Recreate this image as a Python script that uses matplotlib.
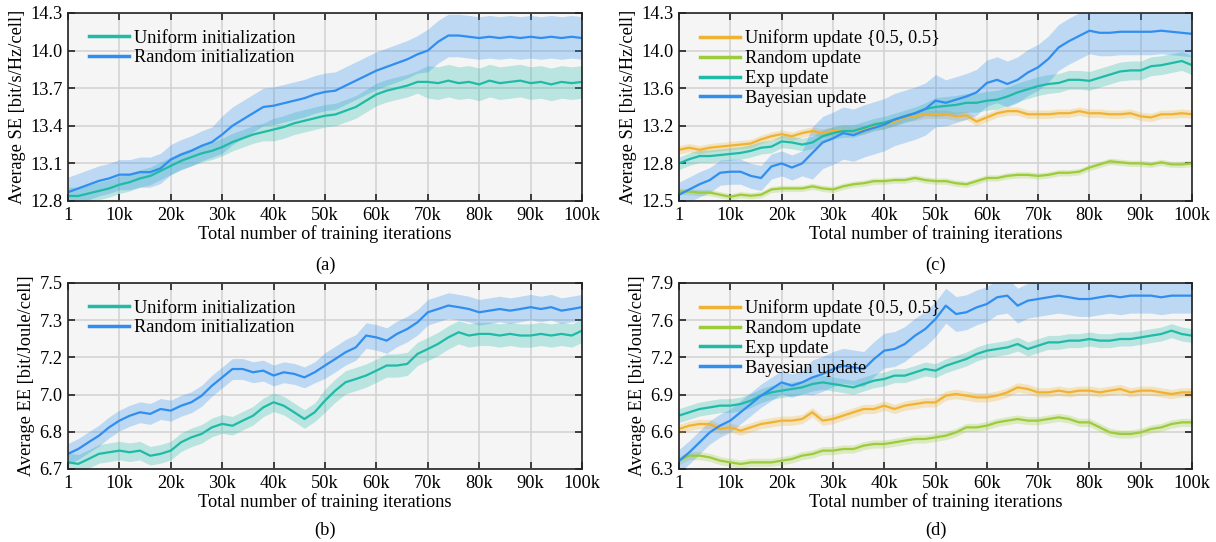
import numpy as np
import matplotlib
matplotlib.use("Agg")
import matplotlib.pyplot as plt

plt.rcParams['font.family'] = ['Liberation Serif', 'DejaVu Serif']
plt.rcParams['mathtext.fontset'] = 'stix'

# ---------------- data ----------------
iters = [1] + list(range(2000, 100001, 2000))   # 51 sample points

# (a) Average SE, initialization
se_init_uniform = [12.84, 12.84, 12.86, 12.88, 12.90, 12.93, 12.95, 12.98, 13.00, 13.04,
                   13.08, 13.12, 13.15, 13.18, 13.20, 13.23, 13.27, 13.30, 13.33, 13.35,
                   13.37, 13.39, 13.42, 13.44, 13.46, 13.48, 13.49, 13.52, 13.55, 13.60,
                   13.65, 13.68, 13.70, 13.72, 13.75, 13.75, 13.74, 13.76, 13.74, 13.75,
                   13.73, 13.76, 13.74, 13.75, 13.76, 13.74, 13.75, 13.73, 13.75, 13.74, 13.75]
se_init_random = [12.87, 12.90, 12.93, 12.96, 12.98, 13.01, 13.01, 13.03, 13.03, 13.06,
                  13.13, 13.17, 13.20, 13.24, 13.27, 13.33, 13.40, 13.45, 13.50, 13.55,
                  13.56, 13.58, 13.60, 13.62, 13.65, 13.67, 13.68, 13.72, 13.76, 13.80,
                  13.84, 13.87, 13.90, 13.93, 13.97, 14.00, 14.07, 14.12, 14.12, 14.11,
                  14.10, 14.11, 14.10, 14.11, 14.10, 14.11, 14.10, 14.11, 14.10, 14.11, 14.10]
se_init_uniform_band = [0.07] * 20 + [0.09] * 15 + [0.13] * 16
se_init_random_band = [0.12] * 15 + [0.15] * 20 + [0.17] * 16

# (c) Average SE, update schemes
se_upd_uniform = [12.99, 13.01, 12.99, 13.01, 13.02, 13.03, 13.04, 13.05, 13.09, 13.12,
                  13.14, 13.12, 13.15, 13.17, 13.15, 13.17, 13.18, 13.17, 13.18, 13.22,
                  13.23, 13.26, 13.30, 13.31, 13.33, 13.33, 13.33, 13.31, 13.32, 13.26,
                  13.30, 13.34, 13.36, 13.36, 13.33, 13.33, 13.33, 13.34, 13.34, 13.36,
                  13.34, 13.34, 13.33, 13.33, 13.34, 13.31, 13.30, 13.33, 13.33, 13.34, 13.33]
se_upd_random = [12.59, 12.59, 12.58, 12.58, 12.56, 12.54, 12.56, 12.55, 12.56, 12.61,
                 12.62, 12.62, 12.62, 12.64, 12.62, 12.61, 12.64, 12.66, 12.67, 12.69,
                 12.69, 12.70, 12.70, 12.72, 12.70, 12.69, 12.69, 12.67, 12.66, 12.69,
                 12.72, 12.72, 12.74, 12.75, 12.75, 12.74, 12.75, 12.77, 12.77, 12.78,
                 12.82, 12.85, 12.88, 12.87, 12.86, 12.86, 12.85, 12.87, 12.85, 12.85, 12.86]
se_upd_exp = [12.86, 12.90, 12.93, 12.93, 12.94, 12.95, 12.96, 12.98, 13.01, 13.02,
              13.07, 13.06, 13.04, 13.06, 13.12, 13.15, 13.17, 13.17, 13.20, 13.23,
              13.25, 13.28, 13.31, 13.34, 13.38, 13.40, 13.41, 13.42, 13.44, 13.44,
              13.46, 13.47, 13.50, 13.54, 13.57, 13.60, 13.62, 13.63, 13.66, 13.66,
              13.65, 13.68, 13.71, 13.74, 13.75, 13.75, 13.79, 13.80, 13.82, 13.84, 13.80]
se_upd_bayes = [12.56, 12.61, 12.66, 12.70, 12.77, 12.78, 12.78, 12.74, 12.72, 12.83,
                12.86, 12.82, 12.86, 12.96, 13.06, 13.10, 13.15, 13.13, 13.17, 13.20,
                13.23, 13.28, 13.31, 13.34, 13.38, 13.46, 13.44, 13.47, 13.50, 13.54,
                13.63, 13.66, 13.62, 13.66, 13.73, 13.78, 13.86, 13.97, 14.03, 14.08,
                14.13, 14.11, 14.11, 14.12, 14.12, 14.12, 14.12, 14.13, 14.12, 14.11, 14.10]
se_upd_uniform_band = [0.04] * 51
se_upd_random_band = [0.03] * 51
se_upd_exp_band = [0.06] * 25 + [0.09] * 26
se_upd_bayes_band = [0.12] * 13 + [0.25] * 13 + [0.22] * 25

# (b) Average EE, initialization
ee_init_uniform = [6.729, 6.722, 6.743, 6.765, 6.772, 6.779, 6.772, 6.779, 6.757, 6.765,
                   6.779, 6.815, 6.836, 6.851, 6.879, 6.894, 6.886, 6.908, 6.929, 6.965,
                   6.987, 6.972, 6.944, 6.915, 6.944, 6.994, 7.037, 7.073, 7.087, 7.102,
                   7.123, 7.145, 7.145, 7.152, 7.195, 7.216, 7.238, 7.266, 7.288, 7.274,
                   7.281, 7.281, 7.274, 7.281, 7.274, 7.274, 7.281, 7.274, 7.281, 7.274, 7.295]
ee_init_random = [6.765, 6.786, 6.815, 6.843, 6.879, 6.908, 6.929, 6.944, 6.937, 6.958,
                  6.951, 6.972, 6.987, 7.015, 7.058, 7.094, 7.130, 7.130, 7.116, 7.123,
                  7.102, 7.116, 7.109, 7.094, 7.116, 7.145, 7.173, 7.202, 7.223, 7.274,
                  7.266, 7.252, 7.281, 7.302, 7.331, 7.374, 7.388, 7.403, 7.396, 7.388,
                  7.374, 7.381, 7.388, 7.381, 7.388, 7.396, 7.388, 7.396, 7.381, 7.388, 7.396]
ee_init_uniform_band = [0.04] * 25 + [0.05] * 26
ee_init_random_band = [0.045] * 25 + [0.055] * 26

# (d) Average EE, update schemes
ee_upd_uniform = [6.644, 6.673, 6.687, 6.687, 6.644, 6.658, 6.630, 6.658, 6.687, 6.701,
                  6.716, 6.716, 6.730, 6.788, 6.716, 6.730, 6.759, 6.788, 6.816, 6.816,
                  6.845, 6.816, 6.845, 6.859, 6.873, 6.873, 6.931, 6.945, 6.931, 6.916,
                  6.916, 6.931, 6.959, 7.002, 6.988, 6.959, 6.959, 6.974, 6.959, 6.974,
                  6.974, 6.959, 6.974, 6.988, 6.959, 6.974, 6.974, 6.959, 6.945, 6.959, 6.959]
ee_upd_random = [6.372, 6.415, 6.415, 6.400, 6.372, 6.357, 6.343, 6.357, 6.357, 6.357,
                 6.372, 6.386, 6.415, 6.429, 6.458, 6.458, 6.472, 6.472, 6.501, 6.515,
                 6.515, 6.529, 6.544, 6.558, 6.558, 6.572, 6.587, 6.615, 6.658, 6.658,
                 6.673, 6.701, 6.716, 6.730, 6.716, 6.716, 6.730, 6.744, 6.730, 6.701,
                 6.701, 6.658, 6.615, 6.601, 6.601, 6.615, 6.644, 6.658, 6.687, 6.701, 6.701]
ee_upd_exp = [6.759, 6.788, 6.816, 6.830, 6.845, 6.845, 6.859, 6.888, 6.931, 6.959,
              6.974, 6.988, 7.002, 7.031, 7.045, 7.031, 7.017, 7.002, 7.031, 7.060,
              7.074, 7.103, 7.103, 7.131, 7.160, 7.146, 7.188, 7.217, 7.246, 7.289,
              7.318, 7.332, 7.346, 7.375, 7.332, 7.361, 7.389, 7.389, 7.404, 7.404,
              7.418, 7.404, 7.404, 7.418, 7.418, 7.432, 7.447, 7.461, 7.490, 7.461, 7.447]
ee_upd_bayes = [6.369, 6.443, 6.529, 6.615, 6.673, 6.716, 6.788, 6.859, 6.931, 6.988,
                7.045, 7.017, 7.045, 7.088, 7.117, 7.160, 7.188, 7.174, 7.160, 7.246,
                7.318, 7.332, 7.375, 7.447, 7.504, 7.590, 7.705, 7.633, 7.648, 7.690,
                7.719, 7.777, 7.791, 7.705, 7.748, 7.762, 7.777, 7.791, 7.777, 7.762,
                7.762, 7.777, 7.791, 7.777, 7.791, 7.791, 7.791, 7.777, 7.791, 7.791, 7.791]
ee_upd_uniform_band = [0.04] * 51
ee_upd_random_band = [0.035] * 51
ee_upd_exp_band = [0.06] * 51
ee_upd_bayes_band = [0.10] * 13 + [0.15] * 38

xtick_vals = [1, 10000, 20000, 30000, 40000, 50000, 60000, 70000, 80000, 90000, 100000]
xtick_labels = ['1', '10k', '20k', '30k', '40k', '50k', '60k', '70k', '80k', '90k', '100k']

yt_a = ['12.8', '13.1', '13.4', '13.7', '14.0', '14.3']
yt_b = ['6.7', '6.8', '7.0', '7.2', '7.3', '7.5']
yt_c = ['12.5', '12.8', '13.2', '13.6', '14.0', '14.3']
yt_d = ['6.3', '6.6', '6.9', '7.2', '7.6', '7.9']

C_TEAL = '#1fbaa8'
C_BLUE = '#2f8ef0'
C_ORANGE = '#f0b232'
C_GREEN = '#9ccb3c'

FS = 13.2

fig = plt.figure(figsize=(12.16, 5.42), dpi=100)

def make_ax(rect, ylim, ylabels, ylabel, tag, tag_y, series):
    ax = fig.add_axes(rect)
    ax.set_facecolor('#f5f5f5')
    x = np.array(iters)
    for y, band, color, label in series:
        y = np.array(y)
        band = np.array(band)
        ax.fill_between(x, y - band, y + band, color=color, alpha=0.28, lw=0)
    for y, band, color, label in series:
        ax.plot(x, y, color=color, lw=1.6, label=label)
    ax.set_xlim(1, 100000)
    ax.set_ylim(*ylim)
    ax.set_xticks(xtick_vals)
    ax.set_xticklabels(xtick_labels, fontsize=FS)
    ax.set_yticks(np.linspace(ylim[0], ylim[1], 6))
    ax.set_yticklabels(ylabels, fontsize=FS)
    ax.grid(True, color='#d4d4d4', lw=1.2)
    ax.set_axisbelow(True)
    ax.tick_params(direction='in', top=True, right=True, length=5, width=1.2,
                   colors='#222222', labelcolor='black', pad=4)
    for s in ax.spines.values():
        s.set_color('#222222')
        s.set_linewidth(1.2)
    ax.set_xlabel('Total number of training iterations', fontsize=FS, labelpad=1)
    ax.set_ylabel(ylabel, fontsize=FS, labelpad=3)
    leg = ax.legend(loc='upper left', frameon=False, fontsize=FS, handlelength=2.2,
                    handletextpad=0.3, labelspacing=0.15, borderaxespad=0.3,
                    bbox_to_anchor=(0.015, 0.98))
    for h in leg.get_lines():
        h.set_linewidth(2.5)
    ax.text(0.5, tag_y, tag, transform=ax.transAxes, ha='center', va='center', fontsize=FS)
    return ax

make_ax([0.0559, 0.6292, 0.4227, 0.3469], (12.8, 14.3), yt_a,
        'Average SE [bit/s/Hz/cell]', '(a)', -0.345,
        [(se_init_uniform, se_init_uniform_band, C_TEAL, 'Uniform initialization'),
         (se_init_random, se_init_random_band, C_BLUE, 'Random initialization')])

make_ax([0.0559, 0.1347, 0.4227, 0.3432], (6.7, 7.5), yt_b,
        'Average EE [bit/Joule/cell]', '(b)', -0.33,
        [(ee_init_uniform, ee_init_uniform_band, C_TEAL, 'Uniform initialization'),
         (ee_init_random, ee_init_random_band, C_BLUE, 'Random initialization')])

make_ax([0.5584, 0.6292, 0.4219, 0.3469], (12.5, 14.3), yt_c,
        'Average SE [bit/s/Hz/cell]', '(c)', -0.345,
        [(se_upd_uniform, se_upd_uniform_band, C_ORANGE, 'Uniform update {0.5, 0.5}'),
         (se_upd_random, se_upd_random_band, C_GREEN, 'Random update'),
         (se_upd_exp, se_upd_exp_band, C_TEAL, 'Exp update'),
         (se_upd_bayes, se_upd_bayes_band, C_BLUE, 'Bayesian update')])

make_ax([0.5584, 0.1347, 0.4219, 0.3432], (6.3, 7.9), yt_d,
        'Average EE [bit/Joule/cell]', '(d)', -0.33,
        [(ee_upd_uniform, ee_upd_uniform_band, C_ORANGE, 'Uniform update {0.5, 0.5}'),
         (ee_upd_random, ee_upd_random_band, C_GREEN, 'Random update'),
         (ee_upd_exp, ee_upd_exp_band, C_TEAL, 'Exp update'),
         (ee_upd_bayes, ee_upd_bayes_band, C_BLUE, 'Bayesian update')])

fig.savefig('out.png', dpi=100)
